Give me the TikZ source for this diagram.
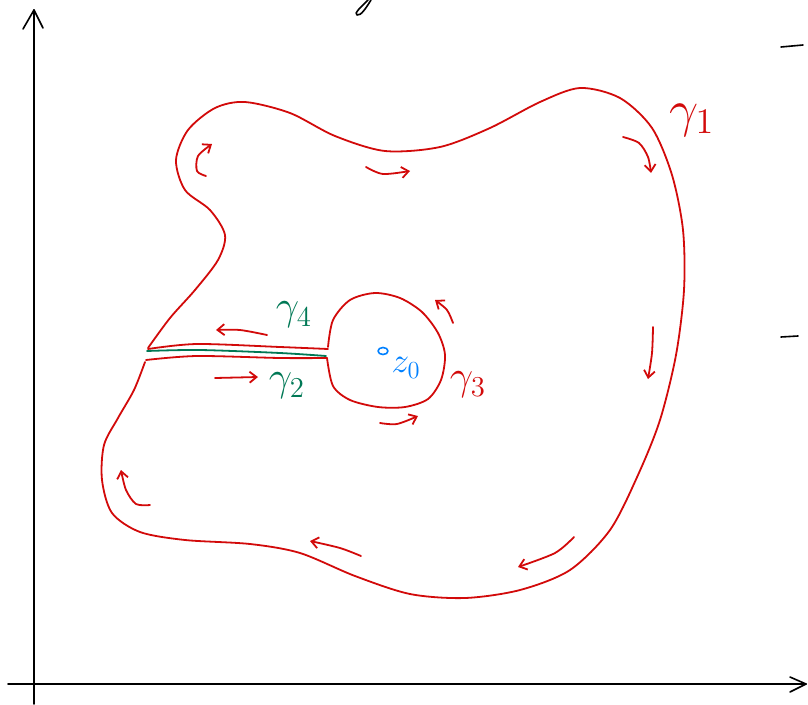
\documentclass[tikz,border=0pt]{standalone}
\usepackage{amsmath,amssymb}
\usepackage{tikz}
\usetikzlibrary{arrows.meta}
\usepackage{xcolor}
\definecolor{penred}{RGB}{210,10,10}
\definecolor{pengreen}{RGB}{0,120,85}
\definecolor{penblue}{RGB}{0,128,255}

\begin{document}
\begin{tikzpicture}[x=1pt,y=-1pt,line cap=round,line join=round,
    pen/.style={penred,line width=1.8pt},
    penarrow/.style={penred,line width=1.8pt,-{Straight Barb[length=7pt,width=11pt]}},
    axisline/.style={black,line width=1.6pt},
    biglabel/.style={font=\fontsize{20}{24}\selectfont,scale=2.5},
    smalllabel/.style={font=\fontsize{20}{24}\selectfont,scale=2}]
    \useasboundingbox (0,0) rectangle (808,704);
    % axes
    \draw[axisline] (34,704)--(34,10);
    \draw[axisline] (23,29)--(34,10)--(43,28);
    \draw[axisline] (8,684)--(806,684);
    \draw[axisline] (790,677)--(806,684)--(790,692);
    \draw[axisline] (368,0) .. controls (362,6) and (353,14) .. (357,15) .. controls (361,16) and (366,8) .. (371,0);
    \draw[axisline] (781,47)--(803,45);
    \draw[axisline] (781,337)--(798,336);
    % outer contour
    \draw[pen] plot[smooth] coordinates {(148,348) (170,318) (195,290) (218,260) (225,235)
      (210,210) (185,190) (176,160) (188,130) (215,108) (245,102) (290,113) (335,136)
      (385,151) (440,147) (490,128) (540,102) (580,88) (620,98) (652,128) (672,175)
      (683,230) (684,290) (676,355) (660,420) (638,475) (610,530) (570,570) (520,590)
      (465,598) (410,594) (355,576) (300,553) (250,544) (185,540) (140,532) (112,513)
      (102,480) (104,445) (118,418) (134,390) (145,362)};
    % slit and small circle
    \draw[pen] plot[smooth] coordinates {(148,349) (197,344) (280,347) (328,349)};
    \draw[pen] plot[smooth] coordinates {(328,347) (333,320) (350,300) (375,293) (400,298)
      (422,312) (438,333) (445,355) (441,380) (428,399) (405,407) (378,407) (350,400)
      (333,386) (327,358)};
    \draw[pen] plot[smooth] coordinates {(327,358) (280,358) (197,356) (146,360)};
    \draw[pengreen,line width=1.8pt] plot[smooth] coordinates {(147,351) (200,350) (280,353) (326,356)};
    % orientation arrows
    \draw[penarrow] plot[smooth] coordinates {(206,176) (197,171) (198,156) (212,144)};
    \draw[penarrow] plot[smooth] coordinates {(366,167) (383,174) (410,171)};
    \draw[penarrow] plot[smooth] coordinates {(623,137) (639,143) (648,157) (651,173)};
    \draw[penarrow] plot[smooth] coordinates {(653,327) (652,353) (648,379)};
    \draw[penarrow] plot[smooth] coordinates {(574,537) (555,553) (518,567)};
    \draw[penarrow] plot[smooth] coordinates {(361,556) (340,548) (310,541)};
    \draw[penarrow] plot[smooth] coordinates {(150,505) (136,504) (126,490) (121,470)};
    \draw[penarrow] plot[smooth] coordinates {(267,335) (240,330) (216,330)};
    \draw[penarrow] plot[smooth] coordinates {(215,378) (258,377)};
    \draw[penarrow] plot[smooth] coordinates {(453,323) (447,310) (435,300)};
    \draw[penarrow] plot[smooth] coordinates {(380,423) (397,424) (418,416)};
    % labels
    \node[biglabel,text=penred] (gamma1) at (692,120) {$\gamma_1$};
    \node[smalllabel,text=pengreen] (gamma4) at (294,315) {$\gamma_4$};
    \node[smalllabel,text=pengreen] (gamma2) at (287,386) {$\gamma_2$};
    \node[smalllabel,text=penred] (gamma3) at (468,385) {$\gamma_3$};
    \draw[penblue,line width=1.6pt] (383,351) ellipse [x radius=5,y radius=3.5];
    \node[smalllabel,scale=0.85,text=penblue] (zzero) at (406,368) {$z_0$};
\end{tikzpicture}
\end{document}
